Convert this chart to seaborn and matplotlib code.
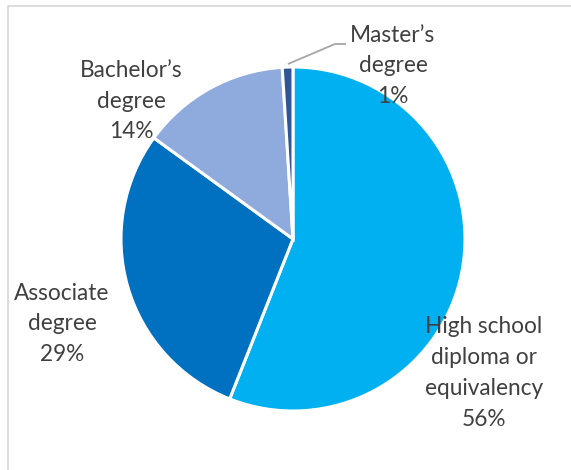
import matplotlib
matplotlib.use("Agg")
import matplotlib.pyplot as plt
import seaborn as sns

# Highest level of education completed
categories = ["High school\ndiploma or\nequivalency", "Associate\ndegree", "Bachelor\u2019s\ndegree", "Master\u2019s\ndegree"]
shares = [56, 29, 14, 1]
colors = ["#00B0F0", "#0070C0", "#8FAADC", "#2F5597"]

sns.set_theme(style="white")
plt.rcParams["font.family"] = ["Lato", "DejaVu Sans"]

W, H = 571, 470
fig = plt.figure(figsize=(W / 100, H / 100), dpi=100)
ax = fig.add_axes([0, 0, 1, 1])

# pixel-based coordinates: x to the right, y upward
cx, cy, r = 293, H - 239, 172
wedges, _ = ax.pie(shares, colors=colors, startangle=90, counterclock=False,
                   center=(cx, cy), radius=r,
                   wedgeprops=dict(edgecolor="white", linewidth=2.2))
ax.set_xlim(0, W)
ax.set_ylim(0, H)
ax.set_aspect("equal")
ax.axis("off")

# label anchors (pixel positions of each text block centre)
label_pos = [(484, H - 373), (62, H - 324), (131, H - 101), (393, H - 66)]
for name, v, (x, y) in zip(categories, shares, label_pos):
    ax.text(x, y, f"{name}\n{v}%", ha="center", va="center", fontsize=16.3,
            color="#404040", linespacing=1.58)

# leader line for the smallest slice
ax.plot([288, 335, 346], [H - 64, H - 44, H - 44], color="#A6A6A6", lw=1.3,
        solid_capstyle="butt")

# chart area frame (top and left edges visible)
ax.plot([8, 8, W], [0, H - 6, H - 6], color="#D9D9D9", lw=1.3, clip_on=False)

fig.savefig("out.png", dpi=100)
